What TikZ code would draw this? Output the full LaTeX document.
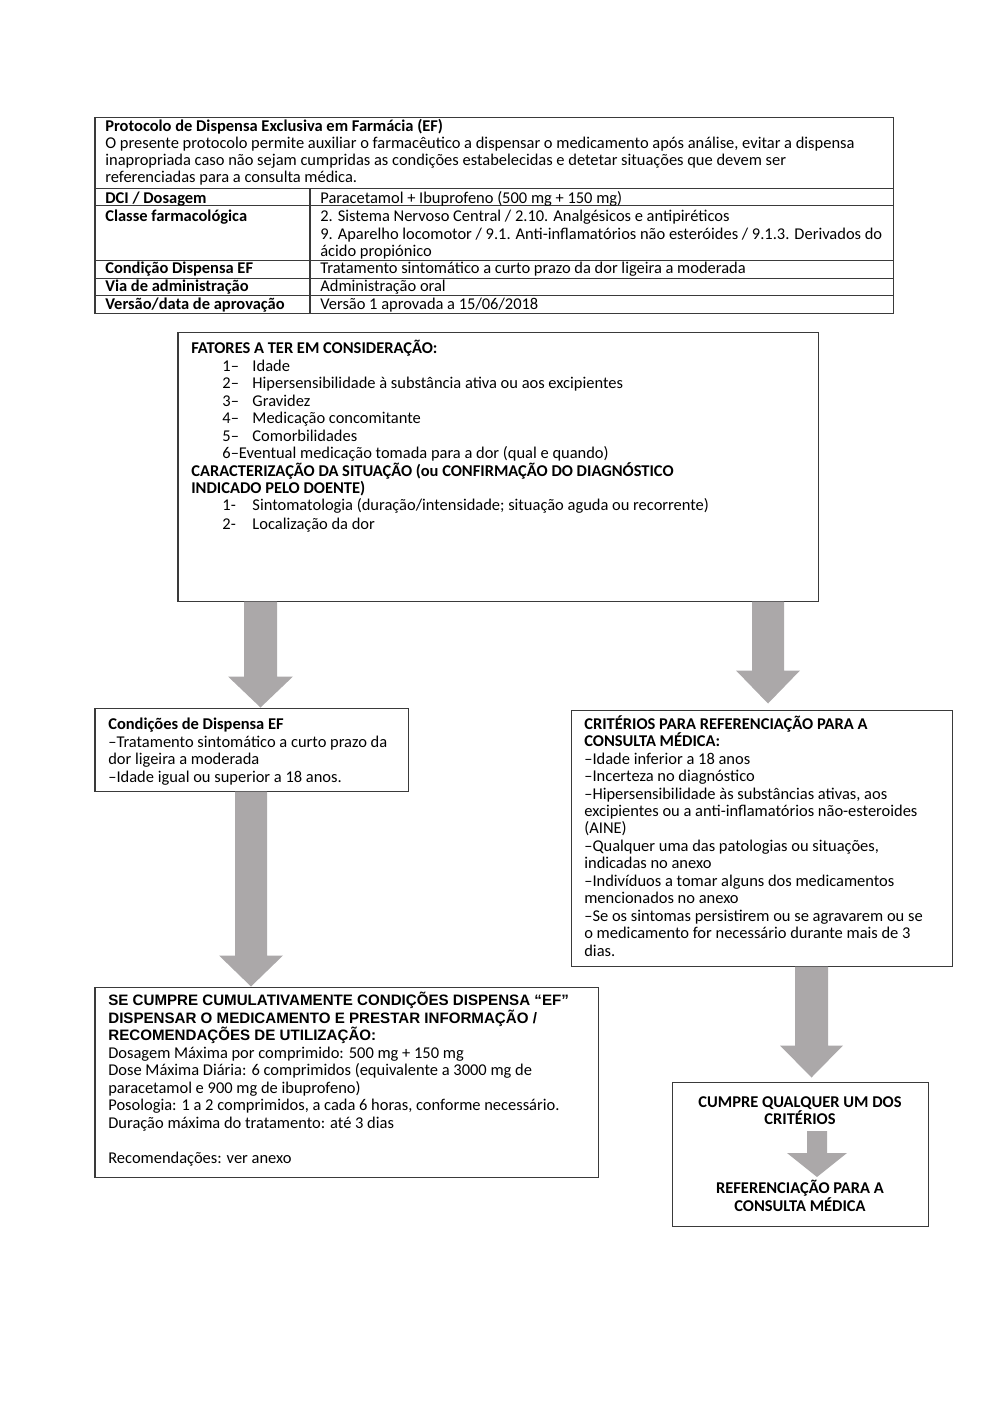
\documentclass[tikz,border=0pt]{standalone}
\usepackage{fontspec}
\setmainfont{Carlito}
\newfontfamily\arialfont{Liberation Sans}
\usetikzlibrary{calc,fit}

\definecolor{arrowgray}{HTML}{ABA8A9}
\definecolor{linegray}{HTML}{3A3A3A}

\tikzset{
  boxline/.style={draw=linegray, line width=0.6pt, inner sep=0pt},
  txt/.style={anchor=north west, inner sep=0pt, align=left, font=\fontsize{9.8}{10.4}\selectfont},
  cell/.style={txt, anchor=base west},
  ctxt/.style={anchor=north, inner sep=0pt, align=center, font=\fontsize{9.8}{10.4}\selectfont\bfseries},
  arrowfill/.style={fill=arrowgray},
}

% block arrow: top, tip, half shaft, half head, head length
\newcommand{\flowarrow}[5]{%
  \fill[arrowfill] ($(#1)+(-#3,0)$) -- ($(#1)+(#3,0)$) -- ($(#2)+(#3,-#5)$)
    -- ($(#2)+(#4,-#5)$) -- (#2) -- ($(#2)+(-#4,-#5)$) -- ($(#2)+(-#3,-#5)$) -- cycle;}
\newcommand{\itm}[1]{\hspace*{18.5pt}\makebox[17.9pt][l]{#1}}
\newcommand{\hdr}[1]{{\arialfont\fontsize{9}{10.4}\selectfont\bfseries #1}}

\begin{document}
\begin{tikzpicture}[x=0.5953pt, y=-0.5953pt]
\useasboundingbox (0,0) rectangle (1000,1414);

% table
\node[boxline, fit={(95,117) (893,313)}] (tab) {};
\draw[boxline] (95,188) -- (893,188);
\draw[boxline] (95,205) -- (893,205);
\draw[boxline] (95,260) -- (893,260);
\draw[boxline] (95,278) -- (893,278);
\draw[boxline] (95,295) -- (893,295);
\draw[boxline] (310,188) -- (310,313);
\node[txt, font=\fontsize{9.8}{10.1}\selectfont] (head) at (105,119) {\textbf{Protocolo de Dispensa Exclusiva em Farmácia (EF)}\\
  O presente protocolo permite auxiliar o farmacêutico a dispensar o medicamento após análise, evitar a dispensa\\
  inapropriada caso não sejam cumpridas as condições estabelecidas e detetar situações que devem ser\\
  referenciadas para a consulta médica.};
\node[cell] (dci) at (105,203) {\textbf{DCI / Dosagem}};
\node[cell] (dciv) at (320,203) {Paracetamol + Ibuprofeno (500 mg + 150 mg)};
\node[cell] (cla) at (105,221) {\textbf{Classe farmacológica}};
\node[txt] (clav) at (320,210) {2. Sistema Nervoso Central / 2.10. Analgésicos e antipiréticos\\
  9. Aparelho locomotor / 9.1. Anti-inflamatórios não esteróides / 9.1.3. Derivados do\\
  ácido propiónico};
\node[cell] (cond) at (105,273.5) {\textbf{Condição Dispensa EF}};
\node[cell] (condv) at (320,273.5) {Tratamento sintomático a curto prazo da dor ligeira a moderada};
\node[cell] (via) at (105,291.5) {\textbf{Via de administração}};
\node[cell] (viav) at (320,291.5) {Administração oral};
\node[cell] (ver) at (105,309.5) {\textbf{Versão/data de aprovação}};
\node[cell] (verv) at (320,309.5) {Versão 1 aprovada a 15/06/2018};

% boxes
\node[boxline, fit={(178,332) (818,601)}] (fatores) {};
\node[txt] (fatorestxt) at (191,340) {\textbf{FATORES A TER EM CONSIDERAÇÃO:}\\
  \itm{1–}Idade\\
  \itm{2–}Hipersensibilidade à substância ativa ou aos excipientes\\
  \itm{3–}Gravidez\\
  \itm{4–}Medicação concomitante\\
  \itm{5–}Comorbilidades\\
  \hspace*{18.5pt}6–Eventual medicação tomada para a dor (qual e quando)\\
  \textbf{CARACTERIZAÇÃO DA SITUAÇÃO (ou CONFIRMAÇÃO DO DIAGNÓSTICO}\\
  \textbf{INDICADO PELO DOENTE)}\\
  \itm{1-}Sintomatologia (duração/intensidade; situação aguda ou recorrente)\\[0.6pt]
  \itm{2-}Localização da dor};

\node[boxline, fit={(95,708) (408,791)}] (conds) {};
\node[txt] (condstxt) at (108,718) {\textbf{Condições de Dispensa EF}\\
  –Tratamento sintomático a curto prazo da\\
  dor ligeira a moderada\\
  –Idade igual ou superior a 18 anos.};

\node[boxline, fit={(571,710) (952,966)}] (crit) {};
\node[txt] (crittxt) at (584,715) {\textbf{CRITÉRIOS PARA REFERENCIAÇÃO PARA A}\\
  \textbf{CONSULTA MÉDICA:}\\
  –Idade inferior a 18 anos\\
  –Incerteza no diagnóstico\\
  –Hipersensibilidade às substâncias ativas, aos\\
  excipientes ou a anti-inflamatórios não-esteroides\\
  (AINE)\\
  –Qualquer uma das patologias ou situações,\\
  indicadas no anexo\\
  –Indivíduos a tomar alguns dos medicamentos\\
  mencionados no anexo\\
  –Se os sintomas persistirem ou se agravarem ou se\\
  o medicamento for necessário durante mais de 3\\
  dias.};

\node[boxline, fit={(95,987) (598,1177)}] (disp) {};
\node[txt] (disptxt) at (108,992) {\hdr{SE CUMPRE CUMULATIVAMENTE CONDIÇÕES DISPENSA “EF”}\\
  \hdr{DISPENSAR O MEDICAMENTO E PRESTAR INFORMAÇÃO /}\\
  \hdr{RECOMENDAÇÕES DE UTILIZAÇÃO:}\\
  Dosagem Máxima por comprimido: 500 mg + 150 mg\\
  Dose Máxima Diária: 6 comprimidos (equivalente a 3000 mg de\\
  paracetamol e 900 mg de ibuprofeno)\\
  Posologia: 1 a 2 comprimidos, a cada 6 horas, conforme necessário.\\
  Duração máxima do tratamento: até 3 dias\\[10.4pt]
  Recomendações: ver anexo};

\node[boxline, fit={(672,1082) (928,1226)}] (refbox) {};
\node[ctxt] (cumpre) at (800,1096) {CUMPRE QUALQUER UM DOS\\ CRITÉRIOS};
\node[ctxt] (refer) at (800,1180) {REFERENCIAÇÃO PARA A\\ CONSULTA MÉDICA};

% arrows
\coordinate (x1) at (260.5,0);
\coordinate (x2) at (768,0);
\coordinate (x3) at (251,0);
\coordinate (x4) at (811.5,0);
\coordinate (x5) at (817,0);
\coordinate (a1top) at (fatores.south -| x1);
\coordinate (a1tip) at (conds.north -| x1);
\coordinate (a2top) at (fatores.south -| x2);
\coordinate (a2tip) at ($(crit.north -| x2)+(0,-6)$);
\coordinate (a3top) at (conds.south -| x3);
\coordinate (a3tip) at (disp.north -| x3);
\coordinate (a4top) at (crit.south -| x4);
\coordinate (a4tip) at ($(refbox.north -| x4)+(0,-4)$);
\coordinate (a5top) at ($(cumpre.south -| x5)+(0,6)$);
\coordinate (a5tip) at ($(refer.north -| x5)+(0,-3)$);
\flowarrow{a1top}{a1tip}{16.5}{32.5}{31}
\flowarrow{a2top}{a2tip}{16}{32}{33}
\flowarrow{a3top}{a3tip}{16}{32}{31}
\flowarrow{a4top}{a4tip}{16.5}{31.5}{32}
\flowarrow{a5top}{a5tip}{10}{30}{24}
\end{tikzpicture}
\end{document}
